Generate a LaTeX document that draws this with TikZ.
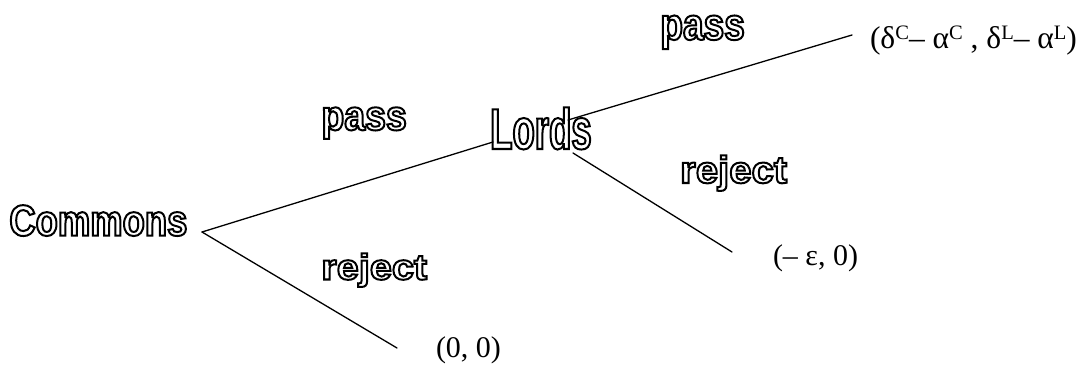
\documentclass[tikz,border=0pt]{standalone}
\usepackage{fontspec}
\setmainfont{Liberation Serif}
\newfontfamily\owfont{Liberation Sans}
% outlined (hollow) text: PDF text rendering mode 1 = stroke only;
% the font is stretched with FakeStretch so the outline keeps one width
\newcommand{\ow}[3]{{\fontsize{#1}{#1}\selectfont\owfont\bfseries\addfontfeatures{FakeStretch=#2}\special{pdf:literal direct 1 Tr 2 w}#3\special{pdf:literal direct 0 Tr}}}
\newcommand{\supx}[1]{\raisebox{9pt}{\fontsize{20.5}{20.5}\selectfont #1}}
\begin{document}
\begin{tikzpicture}[x=1pt,y=-1pt,
  outlined/.style={anchor=base west,inner sep=0pt,outer sep=0pt},
  payoff/.style={anchor=base west,inner sep=0pt,outer sep=0pt,font=\fontsize{30}{32}\selectfont},
  bigpayoff/.style={payoff,font=\fontsize{31.5}{33}\selectfont},
  branch/.style={line width=1.3pt,line cap=round}]
\useasboundingbox (0,0) rectangle (1088,375);
% outlined labels
\node[outlined] (commons) at (9.4,235.6) {\ow{43.6}{0.835}{Commons}};
\node[outlined] (lords) at (490.2,149.0) {\ow{57.6}{0.634}{Lords}};
\node[outlined] (pass1) at (321.4,130.1) {\ow{42.3}{0.886}{pass}};
\node[outlined] (pass2) at (660.4,39.7) {\ow{45.0}{0.823}{pass}};
\node[outlined] (reject1) at (321.3,279.5) {\ow{35.9}{1.105}{reject}};
\node[outlined] (reject2) at (680.2,183.0) {\ow{38.0}{1.055}{reject}};
% payoffs
\node[payoff] (o00) at (436,357.5) {(0, 0)};
\node[payoff] (oe) at (773,265.7) {(– ε, 0)};
\node[bigpayoff] (odl) at (870,48.5) {(δ\supx{C}– α\supx{C} , δ\supx{L}– α\supx{L})};
% branch points
\coordinate (cv) at (202,232);
\coordinate (lA) at (493,142);
\coordinate (lU) at (568,120);
\coordinate (lD) at (573,153);
\coordinate (eU) at (852,35);
\coordinate (eD) at (732,252);
\coordinate (e0) at (397,348);
\draw[branch] (cv) -- (lA);
\draw[branch] (cv) -- (e0);
\draw[branch] (lU) -- (eU);
\draw[branch] (lD) -- (eD);
\end{tikzpicture}
\end{document}
